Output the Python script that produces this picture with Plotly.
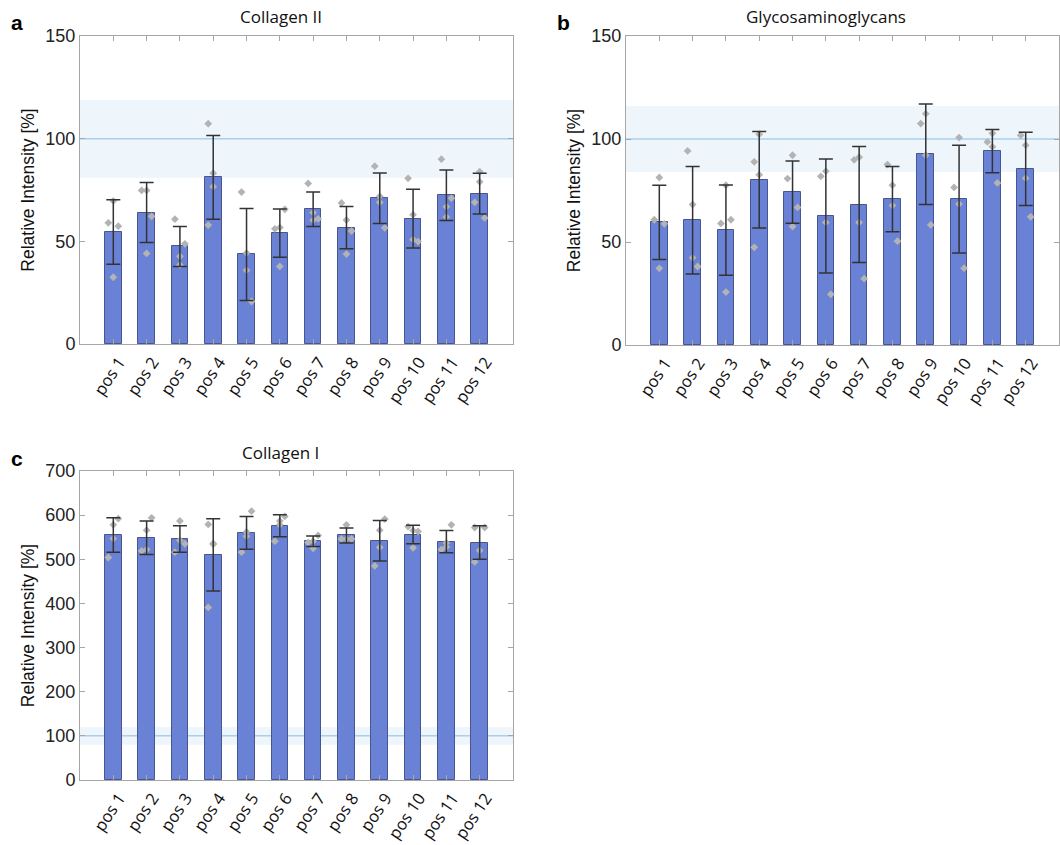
import plotly.graph_objects as go

categories = ["pos 1", "pos 2", "pos 3", "pos 4", "pos 5", "pos 6",
              "pos 7", "pos 8", "pos 9", "pos 10", "pos 11", "pos 12"]

# Panel a: Collagen II
col2_mean = [54.6, 64.0, 47.5, 81.1, 43.6, 54.0, 65.6, 56.7, 71.0, 61.1, 72.4, 73.2]
col2_sd = [15.7, 14.6, 9.7, 20.4, 22.4, 11.7, 8.4, 10.3, 12.3, 14.3, 12.3, 9.9]
col2_pts = [[69.7, 59.0, 57.4, 32.5], [74.8, 74.8, 62.2, 44.1], [60.8, 48.8, 42.7, 38.5],
            [107.3, 83.2, 76.6, 57.9], [74.0, 44.3, 35.9, 20.7], [65.6, 56.1, 56.7, 37.8],
            [78.2, 64.0, 60.3, 60.9], [68.7, 60.4, 55.0, 43.8], [86.6, 71.9, 69.0, 56.6],
            [80.7, 63.0, 50.9, 49.9], [90.0, 71.0, 66.9, 61.9], [83.9, 79.0, 69.0, 61.4]]
col2_jit = [[0, -1, 1, 0], [-1, 0, 1, 0], [-1, 1, 0, 0], [-1, 0, 0, -1], [-1, 0, 0, 1], [1, -1, 0, 0],
            [-1, 0, 0, 1], [-1, 0, 1, 0], [-1, 0, 0, 1], [-1, 0, 0, 1], [-1, 1, 0, 0], [0, 0, -1, 1]]
col2_ref = [100, 19]

# Panel b: Glycosaminoglycans
gag_mean = [59.5, 60.6, 55.8, 80.2, 74.2, 62.6, 68.2, 70.8, 92.6, 70.8, 94.1, 85.5]
gag_sd = [18.0, 26.1, 21.9, 23.4, 15.1, 27.7, 28.1, 15.8, 24.4, 26.2, 10.5, 17.8]
gag_pts = [[81.3, 60.8, 58.8, 37.2], [94.2, 68.2, 42.3, 38.1], [77.6, 59.0, 60.8, 25.7],
           [102.3, 88.9, 82.6, 47.4], [92.1, 80.8, 66.8, 57.5], [81.9, 84.4, 59.5, 24.6],
           [89.9, 91.2, 59.5, 32.2], [87.6, 77.6, 67.7, 50.4], [107.5, 112.3, 92.1, 58.3],
           [100.7, 76.5, 68.4, 37.3], [102.8, 98.6, 96.2, 78.7], [101.8, 97.0, 81.0, 62.2]]
gag_jit = [[0, -1, 1, 0], [-1, 0, 0, 1], [0, -1, 1, 0], [0, -1, 0, -1], [0, -1, 1, 0], [-1, 0, 0, 1],
           [-1, 0, 0, 1], [-1, 0, 0, 1], [-1, 0, 0, 1], [0, -1, 0, 1], [0, -1, 0, 1], [-1, 0, 0, 1]]
gag_ref = [100, 16]

# Panel c: Collagen I
col1_mean = [555, 549, 546, 510, 560, 576, 541, 554, 542, 556, 540, 538]
col1_sd = [39, 38, 30, 82, 37, 25, 12, 17, 46, 21, 25, 38]
col1_pts = [[592, 578, 547, 504], [594, 566, 522, 519], [587, 543, 535, 516],
            [579, 536, 534, 391], [609, 562, 552, 516], [597, 587, 578, 541],
            [554, 541, 538, 525], [578, 546, 546, 546], [591, 566, 527, 485],
            [574, 565, 563, 526], [578, 537, 528, 522], [572, 572, 520, 494]]
col1_jit = [[1, 0, 0, -1], [1, 0, 0, -1], [0, 0, 1, -1], [-1, 0, 0, -1], [1, 0, 0, -1], [1, 0, 0, -1],
            [1, 0, -1, 0], [0, -1, 1, 0], [1, 0, 0, -1], [-1, 0, 1, 0], [1, 0, 0, -1], [-1, 1, 0, -1]]
col1_ref = [100, 20]

W, H = 1060, 845
BAR = "#6a82d6"
BAR_EDGE = "#48558f"
PT = "#b3b3b3"
ERR = "#333333"
AX = "#a6a6a6"
BAND = "#eef5fb"
REFLINE = "#a9d0ee"
NUM_FONT = "Liberation Sans"
TXT_FONT = "Open Sans"

panels = [
    dict(mean=col2_mean, sd=col2_sd, pts=col2_pts, jit=col2_jit, ref=col2_ref,
         title="Collagen II", letter="a", px=(80, 513), py=(36, 344), yr=[0, 150], dt=50,
         tx=281, ty=16, lx=17, ly=22),
    dict(mean=gag_mean, sd=gag_sd, pts=gag_pts, jit=gag_jit, ref=gag_ref,
         title="Glycosaminoglycans", letter="b", px=(626, 1059), py=(36, 345), yr=[0, 150], dt=50,
         tx=826, ty=16, lx=563, ly=22),
    dict(mean=col1_mean, sd=col1_sd, pts=col1_pts, jit=col1_jit, ref=col1_ref,
         title="Collagen I", letter="c", px=(80, 513), py=(471, 780), yr=[0, 700], dt=100,
         tx=280, ty=452, lx=17, ly=458),
]

fig = go.Figure()
xs = list(range(1, len(categories) + 1))
shapes = []
annotations = []

for k, p in enumerate(panels):
    sfx = "" if k == 0 else str(k + 1)
    xa, ya = "x" + sfx, "y" + sfx
    fig.add_trace(go.Bar(x=xs, y=p["mean"], width=0.5, xaxis=xa, yaxis=ya,
                         marker=dict(color=BAR, line=dict(color=BAR_EDGE, width=1)),
                         showlegend=False, hoverinfo="skip"))
    px_, py_ = [], []
    for i, (vals, jit) in enumerate(zip(p["pts"], p["jit"])):
        for v, j in zip(vals, jit):
            px_.append(xs[i] + 0.15 * j)
            py_.append(v)
    fig.add_trace(go.Scatter(x=px_, y=py_, mode="markers", xaxis=xa, yaxis=ya,
                             marker=dict(symbol="diamond", size=6, color=PT),
                             showlegend=False, hoverinfo="skip"))
    fig.add_trace(go.Scatter(x=xs, y=p["mean"], mode="markers", xaxis=xa, yaxis=ya,
                             marker=dict(size=1, opacity=0),
                             error_y=dict(type="data", array=p["sd"], visible=True,
                                          color=ERR, thickness=1.5, width=7),
                             showlegend=False, hoverinfo="skip"))
    ref, half = p["ref"]
    shapes.append(dict(type="rect", xref=xa + " domain", yref=ya, x0=0, x1=1,
                       y0=ref - half, y1=ref + half, fillcolor=BAND, line=dict(width=0),
                       layer="below"))
    shapes.append(dict(type="line", xref=xa + " domain", yref=ya, x0=0, x1=1,
                       y0=ref, y1=ref, line=dict(color=REFLINE, width=1.5), layer="below"))

    dom_x = [p["px"][0] / W, p["px"][1] / W]
    dom_y = [1 - p["py"][1] / H, 1 - p["py"][0] / H]
    fig.layout["xaxis" + sfx] = dict(
        domain=dom_x, range=[0, 13], anchor=ya, tickvals=xs, ticktext=categories,
        tickangle=-56, showline=True, linecolor=AX, linewidth=1, mirror="ticks",
        ticks="inside", ticklen=5, tickcolor=AX, showgrid=False, zeroline=False,
        automargin=False, ticklabelshift=6, ticklabelstandoff=1,
        tickfont=dict(family=TXT_FONT, size=16.5, color="#111"), fixedrange=True)
    fig.layout["yaxis" + sfx] = dict(
        domain=dom_y, range=p["yr"], dtick=p["dt"], anchor=xa, showline=True,
        linecolor=AX, linewidth=1, mirror="ticks", ticks="inside", ticklen=5,
        tickcolor=AX, showgrid=False, zeroline=False, automargin=False,
        tickfont=dict(family=NUM_FONT, size=18, color="#222"),
        title=dict(text="Relative Intensity [%]", standoff=6,
                   font=dict(family=NUM_FONT, size=17.5, color="#111")),
        fixedrange=True)
    annotations.append(dict(text=p["title"], x=p["tx"] / W, y=1 - p["ty"] / H,
                            xref="paper", yref="paper", showarrow=False,
                            xanchor="center", yanchor="middle",
                            font=dict(family=TXT_FONT, size=17, color="#111")))
    annotations.append(dict(text="<b>" + p["letter"] + "</b>", x=p["lx"] / W, y=1 - p["ly"] / H,
                            xref="paper", yref="paper", showarrow=False,
                            xanchor="center", yanchor="middle",
                            font=dict(family=NUM_FONT, size=21, color="#000")))

fig.update_layout(width=W, height=H, margin=dict(l=0, r=0, t=0, b=0, autoexpand=False),
                  paper_bgcolor="white", plot_bgcolor="white", shapes=shapes,
                  annotations=annotations, bargap=0, showlegend=False)

fig.write_html("out.html", config={"displayModeBar": False})
